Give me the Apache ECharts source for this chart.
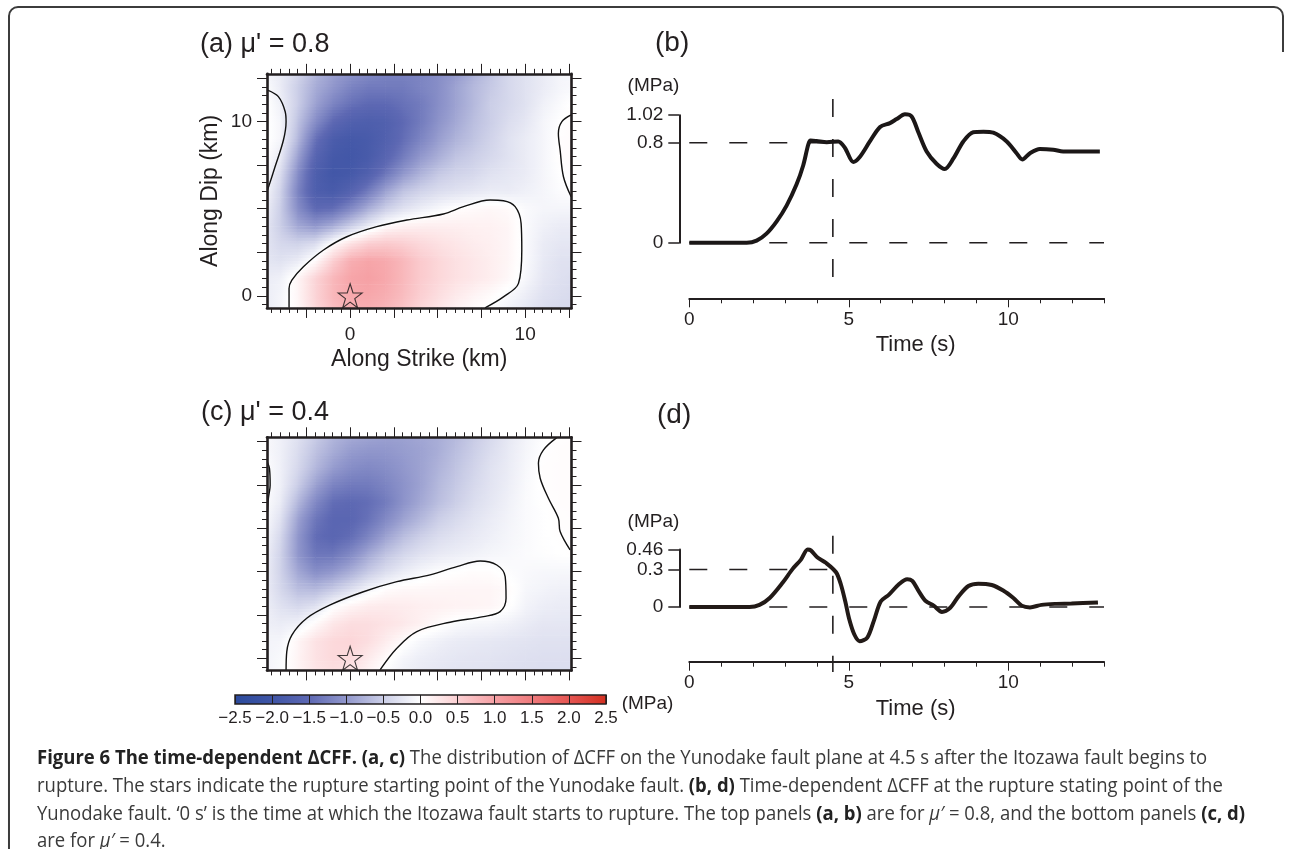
<!DOCTYPE html>
<html><head><meta charset="utf-8">
<script src="https://cdn.jsdelivr.net/npm/echarts@6/dist/echarts.min.js"></script>
<style>html,body{margin:0;padding:0;background:#fff}#c{width:1290px;height:849px}</style>
</head><body><div id="c"></div>
<script>
// ================= DATA =================
// Fault-plane grid nodes (km)
const strikeNodes = [-5,-4,-3,-2,-1,0,1,2,3,4,5,6,7,8,9,10,11,12,13];
const dipNodes = [13,12,11,10,9,8,7,6,5,4,3,2,1,0,-1]; // rows, top to bottom
// ΔCFF (MPa) read at grid nodes, panel (a) mu'=0.8
const fieldA = [
 [-0.1,-0.2,-0.4,-0.7,-0.9,-1.0,-1.1,-1.2,-1.2,-1.2,-1.1,-1.0,-0.8,-0.6,-0.4,-0.3,-0.2,-0.1,-0.1],
 [0.0,-0.2,-0.5,-0.8,-1.0,-1.2,-1.3,-1.3,-1.3,-1.2,-1.1,-0.9,-0.7,-0.55,-0.4,-0.3,-0.2,-0.1,-0.05],
 [0.05,-0.15,-0.5,-0.9,-1.2,-1.4,-1.5,-1.5,-1.4,-1.3,-1.1,-0.9,-0.7,-0.5,-0.4,-0.3,-0.15,-0.05,0.05],
 [0.05,-0.1,-0.6,-1.1,-1.5,-1.7,-1.75,-1.7,-1.5,-1.3,-1.05,-0.85,-0.65,-0.5,-0.35,-0.25,-0.1,0.0,0.05],
 [0.05,-0.1,-0.7,-1.4,-1.8,-1.9,-1.85,-1.7,-1.45,-1.2,-0.95,-0.75,-0.6,-0.45,-0.3,-0.2,-0.1,0.02,0.05],
 [0.03,-0.2,-0.9,-1.6,-1.9,-1.95,-1.85,-1.6,-1.3,-1.0,-0.8,-0.6,-0.5,-0.4,-0.3,-0.2,-0.1,0.02,0.05],
 [0.02,-0.35,-1.1,-1.75,-1.95,-1.9,-1.7,-1.35,-1.0,-0.75,-0.55,-0.45,-0.4,-0.3,-0.25,-0.2,-0.1,0.0,0.03],
 [-0.02,-0.45,-1.2,-1.75,-1.85,-1.65,-1.3,-0.9,-0.6,-0.45,-0.35,-0.3,-0.25,-0.2,-0.2,-0.15,-0.1,-0.03,0.0],
 [-0.1,-0.5,-1.1,-1.5,-1.45,-1.15,-0.8,-0.5,-0.3,-0.18,-0.08,0.01,0.05,0.08,0.05,-0.05,-0.1,-0.1,-0.1],
 [-0.2,-0.5,-0.85,-1.0,-0.8,-0.5,-0.2,0.05,0.15,0.18,0.18,0.17,0.15,0.14,0.1,-0.05,-0.15,-0.2,-0.2],
 [-0.25,-0.4,-0.45,-0.35,0.02,0.3,0.5,0.55,0.5,0.4,0.32,0.26,0.2,0.16,0.1,-0.05,-0.2,-0.25,-0.25],
 [-0.25,-0.3,-0.2,0.05,0.5,0.85,0.95,0.9,0.75,0.55,0.42,0.32,0.25,0.18,0.1,-0.05,-0.22,-0.3,-0.3],
 [-0.2,-0.15,0.1,0.45,0.75,0.95,1.0,0.92,0.75,0.55,0.42,0.32,0.25,0.18,0.08,-0.08,-0.25,-0.32,-0.35],
 [-0.2,-0.1,0.1,0.45,0.75,0.9,0.92,0.85,0.7,0.5,0.35,0.22,0.12,0.04,-0.06,-0.18,-0.3,-0.35,-0.38],
 [-0.2,-0.1,0.08,0.4,0.65,0.8,0.82,0.75,0.6,0.4,0.25,0.12,0.03,-0.05,-0.15,-0.25,-0.35,-0.4,-0.4]
];
// ΔCFF (MPa) read at grid nodes, panel (c) mu'=0.4
const fieldC = [
 [-0.05,-0.15,-0.3,-0.5,-0.7,-0.8,-0.85,-0.9,-0.9,-0.85,-0.8,-0.7,-0.55,-0.4,-0.25,-0.12,-0.02,0.02,0.03],
 [-0.05,-0.15,-0.35,-0.6,-0.8,-0.95,-1.0,-1.0,-0.95,-0.9,-0.8,-0.65,-0.5,-0.35,-0.22,-0.1,0.0,0.03,0.03],
 [0.0,-0.15,-0.4,-0.7,-0.95,-1.1,-1.15,-1.1,-1.0,-0.9,-0.75,-0.6,-0.45,-0.3,-0.2,-0.08,0.02,0.03,0.03],
 [0.0,-0.15,-0.5,-0.9,-1.2,-1.3,-1.3,-1.2,-1.05,-0.9,-0.7,-0.55,-0.4,-0.28,-0.18,-0.06,0.02,0.03,0.03],
 [0.0,-0.2,-0.7,-1.15,-1.45,-1.5,-1.45,-1.3,-1.05,-0.85,-0.65,-0.5,-0.35,-0.25,-0.15,-0.05,0.0,0.03,0.03],
 [-0.02,-0.3,-0.9,-1.35,-1.55,-1.55,-1.4,-1.15,-0.9,-0.7,-0.5,-0.38,-0.28,-0.2,-0.12,-0.05,-0.01,0.02,0.03],
 [-0.05,-0.4,-1.0,-1.45,-1.55,-1.45,-1.2,-0.9,-0.65,-0.48,-0.35,-0.28,-0.22,-0.16,-0.1,-0.05,-0.01,0.01,0.02],
 [-0.1,-0.45,-1.0,-1.35,-1.35,-1.15,-0.85,-0.6,-0.42,-0.3,-0.22,-0.18,-0.14,-0.1,-0.07,-0.04,-0.02,0.0,0.01],
 [-0.12,-0.45,-0.85,-1.1,-1.0,-0.8,-0.55,-0.35,-0.2,-0.1,-0.03,0.0,0.03,0.02,-0.03,-0.06,-0.08,-0.08,-0.08],
 [-0.15,-0.4,-0.65,-0.7,-0.55,-0.35,-0.12,0.02,0.07,0.08,0.09,0.1,0.1,0.1,0.05,-0.08,-0.12,-0.15,-0.15],
 [-0.15,-0.3,-0.4,-0.3,-0.02,0.12,0.2,0.22,0.2,0.17,0.15,0.13,0.12,0.1,0.02,-0.12,-0.18,-0.2,-0.2],
 [-0.15,-0.2,-0.15,0.05,0.25,0.35,0.35,0.3,0.24,0.15,0.05,-0.04,-0.08,-0.1,-0.14,-0.2,-0.25,-0.25,-0.25],
 [-0.12,-0.1,0.1,0.3,0.4,0.43,0.35,0.2,0.05,-0.08,-0.15,-0.2,-0.22,-0.24,-0.26,-0.28,-0.3,-0.3,-0.3],
 [-0.12,-0.06,0.12,0.3,0.4,0.38,0.22,0.05,-0.1,-0.18,-0.22,-0.25,-0.27,-0.28,-0.3,-0.32,-0.33,-0.33,-0.33],
 [-0.12,-0.05,0.1,0.25,0.32,0.25,0.1,-0.05,-0.15,-0.22,-0.25,-0.27,-0.28,-0.3,-0.32,-0.33,-0.35,-0.35,-0.35]
];
// Zero contours [strike km, dip km]
const contourA1 = [[-3.49,-0.69],[-3.49,0.42],[-3.33,0.9],[-2.67,1.67],[-1.52,2.63],[-0.19,3.39],[1.52,3.97],[3.24,4.35],[5.33,4.7],[6.48,5.12],[8.0,5.5],[8.76,5.46],[9.43,5.12],[9.77,4.16],[9.81,2.63],[9.62,0.71],[8.76,-0.06],[7.71,-0.69]];
const contourA2 = [[-4.72,11.82],[-4.1,11.44],[-3.71,10.57],[-3.66,10.0],[-3.81,8.95],[-4.29,7.41],[-4.72,6.07]];
const contourA3 = [[12.63,10.39],[12.1,10.0],[11.9,9.33],[12.0,8.37],[12.19,6.84],[12.63,5.69]];
const contourC1 = [[-3.66,-0.73],[-3.62,0.38],[-3.33,1.34],[-2.48,2.31],[-1.14,3.08],[0.76,3.84],[2.67,4.42],[4.57,4.81],[6.1,5.29],[7.43,5.61],[8.38,5.38],[8.86,4.71],[8.91,3.46],[8.57,2.69],[7.62,2.4],[5.71,2.08],[3.81,1.54],[2.67,0.58],[1.71,-0.67]];
const contourC2 = [[-4.72,11.3],[-4.61,10.96],[-4.57,10.0],[-4.67,9.23],[-4.72,8.46]];
const contourC3 = [[11.81,12.73],[11.05,12.02],[10.76,11.25],[10.86,10.39],[11.33,9.23],[11.9,8.08],[12.0,7.31],[12.57,6.25]];
const ruptureStart = [[0, 0]];
// Time series (s, MPa)
const timeB = [0,1.8,2.11,2.42,2.74,3.05,3.36,3.57,3.73,3.8,3.99,4.31,4.67,4.88,5.14,5.35,5.66,5.98,6.29,6.5,6.76,6.97,7.18,7.44,7.75,8.01,8.28,8.59,8.9,9.22,9.53,9.95,10.26,10.44,10.68,10.99,11.41,11.72,12.25,12.87];
const cffB  = [0,0,0.017,0.073,0.171,0.297,0.465,0.618,0.786,0.817,0.813,0.804,0.81,0.758,0.646,0.688,0.81,0.926,0.957,0.989,1.027,1.01,0.884,0.73,0.632,0.59,0.674,0.81,0.884,0.888,0.88,0.81,0.716,0.666,0.716,0.75,0.744,0.73,0.73,0.73];
const timeD = [0,1.89,2.2,2.52,2.93,3.24,3.5,3.71,3.81,4.02,4.28,4.6,4.75,4.89,5.01,5.17,5.34,5.58,5.79,6.0,6.26,6.57,6.83,6.99,7.19,7.4,7.66,7.92,8.18,8.44,8.75,9.06,9.48,9.84,10.16,10.42,10.68,11.04,11.46,11.98,12.81];
const cffD  = [0,0,0.017,0.072,0.196,0.305,0.379,0.46,0.453,0.396,0.354,0.278,0.182,0.044,-0.094,-0.218,-0.273,-0.245,-0.107,0.044,0.099,0.182,0.223,0.209,0.127,0.05,0.011,-0.039,-0.006,0.085,0.168,0.187,0.176,0.132,0.072,0.011,-0.003,0.017,0.025,0.028,0.036];
// Reference (dashed) lines
const guideBvert = [[4.5,1.15],[4.5,-0.3]];
const guideBlevel = [[0,0.8],[4.6,0.8]];
const guideBzero = [[0,0],[13,0]];
const guideDvert = [[4.5,0.57],[4.5,-0.52]];
const guideDlevel = [[0,0.3],[4.6,0.3]];
const guideDzero = [[0,0],[13,0]];
// Tick values
const strikeMajor = [-2.5,0,2.5,5,7.5,10,12.5];
const dipMajor = [0,2.5,5,7.5,10,12.5];
const kmLabels = [0,10];
const timeMajor = [0,5,10];
const timeMinor = [0,1,2,3,4,5,6,7,8,9,10,11,12,13];
const cffTicksB = [0,0.8,1.02];
const cffTicksD = [0,0.3,0.46];
const colorRange = [[-2.5, 2.5]];
// Colour scale of the colour bar (MPa -> colour)
const cbStops = [[-2.5,'#2b4a9c'],[-2.0,'#3f55a6'],[-1.5,'#5d68b3'],[-1.0,'#9197cc'],[-0.5,'#cbcee7'],[0,'#ffffff'],[0.5,'#fbcfd2'],[1.0,'#f6a0a4'],[1.5,'#ef7a7c'],[2.0,'#e55552'],[2.5,'#d32f20']];

// ================= HELPERS =================
const FONT = "'Liberation Sans', Arial, Helvetica, sans-serif";
const CAPFONT = "'Open Sans', 'DejaVu Sans', sans-serif";
const INK = '#231f20';
const minorList = (a, b) => { const r = []; for (let v = a; v <= b + 1e-9; v += 0.5) r.push(+v.toFixed(2)); return r; };
const strikeMinor = minorList(-4.5, 12.5);
const dipMinor = minorList(-0.5, 12.5);
const hexRgb = h => [parseInt(h.slice(1,3),16), parseInt(h.slice(3,5),16), parseInt(h.slice(5,7),16)];
const cbRgb = cbStops.map(s => [s[0], hexRgb(s[1])]);
function cmap(v) {
  if (v <= cbRgb[0][0]) return 'rgb(' + cbRgb[0][1].join(',') + ')';
  for (let i = 1; i < cbRgb.length; i++) {
    if (v <= cbRgb[i][0]) {
      const a = cbRgb[i-1], b = cbRgb[i], t = (v - a[0]) / (b[0] - a[0]);
      return 'rgb(' + [0,1,2].map(k => Math.round(a[1][k] + (b[1][k] - a[1][k]) * t)).join(',') + ')';
    }
  }
  return 'rgb(' + cbRgb[cbRgb.length-1][1].join(',') + ')';
}
const linGrad = (stops) => ({type: 'linear', x: 0, y: 0, x2: 1, y2: 0, colorStops: stops, global: false});

function fieldSeries(field, axisIdx) {
  const cells = [];
  for (let r = 0; r < dipNodes.length - 1; r++)
    for (let c = 0; c < strikeNodes.length - 1; c++) cells.push([strikeNodes[c], dipNodes[r], c, r]);
  return {
    type: 'custom', xAxisIndex: axisIdx, yAxisIndex: axisIdx, clip: true, silent: true, z: 1,
    data: cells,
    renderItem(params, api) {
      const c = api.value(2), r = api.value(3);
      const pTL = api.coord([strikeNodes[c], dipNodes[r]]);
      const pBR = api.coord([strikeNodes[c+1], dipNodes[r+1]]);
      const vTL = field[r][c], vTR = field[r][c+1], vBL = field[r+1][c], vBR = field[r+1][c+1];
      const S = 6, h = (pBR[1] - pTL[1]) / S, w = pBR[0] - pTL[0];
      const children = [];
      for (let k = 0; k < S; k++) {
        const t = (k + 0.5) / S;
        const vl = vTL + (vBL - vTL) * t, vr = vTR + (vBR - vTR) * t;
        const stops = [];
        for (let s = 0; s <= 4; s++) { const u = s / 4; stops.push({offset: u, color: cmap(vl + (vr - vl) * u)}); }
        children.push({type: 'rect', shape: {x: pTL[0], y: pTL[1] + k * h, width: w + 0.7, height: h + 0.7},
          style: {fill: linGrad(stops)}});
      }
      return {type: 'group', children};
    }
  };
}
const lineOf = (data, xi, yi, extra) => Object.assign({
  type: 'line', xAxisIndex: xi, yAxisIndex: yi, data, showSymbol: false, symbol: 'none',
  silent: true, animation: false
}, extra);
const contour = (data, idx) => lineOf(data, idx, idx, {smooth: 0.35, clip: true, z: 3, lineStyle: {color: '#111', width: 1.4}});
const dashed = (data, xi, yi) => lineOf(data, xi, yi, {clip: false, z: 2, lineStyle: {color: INK, width: 1.6, type: [18, 22]}});
const star = (idx) => ({type: 'scatter', xAxisIndex: idx, yAxisIndex: idx, data: ruptureStart, z: 4, silent: true,
  symbol: 'path://M12,0.5 L14.8,8.9 L23.6,8.9 L16.5,14.1 L19.2,22.5 L12,17.3 L4.8,22.5 L7.5,14.1 L0.4,8.9 L9.2,8.9 Z',
  symbolSize: 24, itemStyle: {color: 'rgba(0,0,0,0)', borderColor: '#111', borderWidth: 1.1}});

const lbl = (vals, margin) => vals ? {show: true, customValues: vals, margin, fontSize: 19, color: INK, fontFamily: FONT} : {show: false};
function xFrame(grid, pos, major, labels, name) {
  return {
    gridIndex: grid, type: 'value', position: pos, min: -4.75, max: 12.65, z: 5,
    axisLine: {show: major, onZero: false, lineStyle: {color: INK, width: 2.6}},
    axisTick: {show: true, customValues: major ? strikeMajor : strikeMinor, length: major ? 10 : 5, lineStyle: {color: INK, width: 1}},
    axisLabel: lbl(labels, 17), splitLine: {show: false},
    name: name || '', nameLocation: 'middle', nameGap: 40,
    nameTextStyle: {fontSize: 23, color: INK, fontFamily: FONT}
  };
}
function yFrame(grid, pos, major, labels, name) {
  return {
    gridIndex: grid, type: 'value', position: pos, min: -0.7, max: 12.75, z: 5,
    axisLine: {show: major, onZero: false, lineStyle: {color: INK, width: 2.6}},
    axisTick: {show: true, customValues: major ? dipMajor : dipMinor, length: major ? 10 : 5, lineStyle: {color: INK, width: 1}},
    axisLabel: lbl(labels, 15), splitLine: {show: false},
    name: name || '', nameLocation: 'middle', nameGap: 45,
    nameTextStyle: {fontSize: 23, color: INK, fontFamily: FONT}
  };
}
function timeAxis(grid, major) {
  return {
    gridIndex: grid, type: 'value', position: 'bottom', min: 0, max: 13,
    axisLine: {show: major, onZero: false, lineStyle: {color: INK, width: 2}},
    axisTick: {show: true, customValues: major ? timeMajor : timeMinor, length: major ? 9 : 5, lineStyle: {color: INK, width: 1}},
    axisLabel: major ? lbl(timeMajor, 12) : {show: false}, splitLine: {show: false},
    name: major ? 'Time (s)' : '', nameLocation: 'middle', nameGap: 36,
    nameTextStyle: {fontSize: 22, color: INK, fontFamily: FONT, padding: [0, 0, 0, 38]}
  };
}
function bracketAxis(grid, max, ticks, gap) {
  return {
    gridIndex: grid, type: 'value', position: 'left', min: 0, max,
    axisLine: {show: true, onZero: false, lineStyle: {color: INK, width: 2}},
    axisTick: {show: true, customValues: ticks, length: 11, lineStyle: {color: INK, width: 1.5}},
    axisLabel: lbl(ticks, 16), splitLine: {show: false},
    name: '(MPa)', nameLocation: 'end', nameGap: gap,
    nameTextStyle: {fontSize: 19, color: INK, fontFamily: FONT, align: 'right', verticalAlign: 'bottom'}
  };
}
const hidden = (grid, min, max) => ({gridIndex: grid, type: 'value', show: false, min, max});

const G = (left, top, width, height) => ({left, top, width, height, containLabel: false, outerBoundsMode: 'none', show: false});

const option = {
  animation: false,
  backgroundColor: '#fff',
  textStyle: {fontFamily: FONT},
  grid: [
    G(267, 73.85, 304.5, 234.1),   // 0 (a)
    G(267, 437.3, 304.5, 233.1),   // 1 (c)
    G(689.3, 99, 414.7, 199.3),    // 2 (b)
    G(679.3, 115.2, 10, 127.5),    // 3 (b) bracket
    G(689.3, 535.7, 414.7, 126),   // 4 (d)
    G(679.3, 549.5, 10, 57.5),     // 5 (d) bracket
    G(235, 695, 371, 9)            // 6 colour bar
  ],
  xAxis: [
    xFrame(0, 'bottom', true, kmLabels, 'Along Strike (km)'),
    xFrame(0, 'bottom', false),
    xFrame(0, 'top', true),
    xFrame(0, 'top', false),
    xFrame(1, 'bottom', true),
    xFrame(1, 'bottom', false),
    xFrame(1, 'top', true),
    xFrame(1, 'top', false),
    timeAxis(2, true),
    timeAxis(2, false),
    hidden(3, 0, 1),
    timeAxis(4, true),
    timeAxis(4, false),
    hidden(5, 0, 1),
    {gridIndex: 6, type: 'value', min: -2.5, max: 2.5, interval: 0.5, z: 10, position: 'bottom',
     axisLine: {show: false, onZero: false}, axisTick: {show: false},
     splitLine: {show: true, lineStyle: {color: INK, width: 1}},
     axisLabel: {show: true, margin: 6, fontSize: 17, color: INK, fontFamily: FONT,
                 formatter: v => v.toFixed(1).replace('-', '\u2212')},
     name: '(MPa)', nameLocation: 'end', nameGap: 8,
     nameTextStyle: {fontSize: 19, color: INK, fontFamily: FONT}}
  ],
  yAxis: [
    yFrame(0, 'left', true, kmLabels, 'Along Dip (km)'),
    yFrame(0, 'left', false),
    yFrame(0, 'right', true),
    yFrame(0, 'right', false),
    yFrame(1, 'left', true),
    yFrame(1, 'left', false),
    yFrame(1, 'right', true),
    yFrame(1, 'right', false),
    hidden(2, -0.4448, 1.1496),
    bracketAxis(3, 1.02, cffTicksB, 20),
    hidden(4, -0.4376, 0.5704),
    bracketAxis(5, 0.46, cffTicksD, 18),
    hidden(6, 0, 1)
  ],
  series: [
    fieldSeries(fieldA, 0),
    contour(contourA1, 0), contour(contourA2, 0), contour(contourA3, 0),
    star(0),
    fieldSeries(fieldC, 4),
    contour(contourC1, 4), contour(contourC2, 4), contour(contourC3, 4),
    star(4),
    lineOf(timeB.map((t, i) => [t, cffB[i]]), 8, 8, {smooth: 0.3, clip: false, z: 3, lineStyle: {color: '#1b1717', width: 4}}),
    dashed(guideBvert, 8, 8), dashed(guideBlevel, 8, 8), dashed(guideBzero, 8, 8),
    lineOf(timeD.map((t, i) => [t, cffD[i]]), 11, 10, {smooth: 0.3, clip: false, z: 3, lineStyle: {color: '#221a17', width: 4}}),
    dashed(guideDvert, 11, 10), dashed(guideDlevel, 11, 10), dashed(guideDzero, 11, 10),
    {type: 'custom', xAxisIndex: 14, yAxisIndex: 12, data: colorRange, silent: true, z: 2,
     renderItem(params, api) {
       const p0 = api.coord([api.value(0), 0]), p1 = api.coord([api.value(1), 1]);
       const stops = cbStops.map(s => ({offset: (s[0] - api.value(0)) / (api.value(1) - api.value(0)), color: s[1]}));
       return {type: 'rect', shape: {x: p0[0], y: p1[1], width: p1[0] - p0[0], height: p0[1] - p1[1]},
               style: {fill: linGrad(stops), stroke: INK, lineWidth: 1.5}};
     }}
  ],
  graphic: [
    {type: 'rect', silent: true, shape: {x: 9, y: 7, width: 1274, height: 900, r: 9},
     style: {fill: 'none', stroke: '#3c3c3c', lineWidth: 2}},
    {type: 'rect', silent: true, shape: {x: 1278, y: 52, width: 12, height: 800}, style: {fill: '#fff'}},
    {type: 'text', x: 200, y: 45, style: {text: "(a) \u03bc' = 0.8", fontSize: 27, fontFamily: FONT, fill: INK, verticalAlign: 'middle'}},
    {type: 'text', x: 655, y: 43, style: {text: '(b)', fontSize: 28, fontFamily: FONT, fill: INK, verticalAlign: 'middle'}},
    {type: 'text', x: 201, y: 413, style: {text: "(c) \u03bc' = 0.4", fontSize: 27, fontFamily: FONT, fill: INK, verticalAlign: 'middle'}},
    {type: 'text', x: 657, y: 415, style: {text: '(d)', fontSize: 28, fontFamily: FONT, fill: INK, verticalAlign: 'middle'}}
  ]
};

const capLines = [
  '{b|Figure 6 The time-dependent \u0394CFF.} {b|(a, c)} The distribution of \u0394CFF on the Yunodake fault plane at 4.5 s after the Itozawa fault begins to',
  'rupture. The stars indicate the rupture starting point of the Yunodake fault. {b|(b, d)} Time-dependent \u0394CFF at the rupture stating point of the',
  'Yunodake fault. \u20180 s\u2019 is the time at which the Itozawa fault starts to rupture. The top panels {b|(a, b)} are for {i|\u03bc\u2032} = 0.8, and the bottom panels {b|(c, d)}',
  'are for {i|\u03bc\u2032} = 0.4.'
];
const capY = [758, 786, 814, 841];
// horizontal condensing so the caption lines span the same width as in the figure
const ctx2d = document.createElement('canvas').getContext('2d');
function measureLine(line) {
  let w = 0; const re = /\{(\w)\|([^}]*)\}|([^{]+)/g; let m;
  while ((m = re.exec(line))) {
    if (m[3]) { ctx2d.font = '20px ' + CAPFONT; w += ctx2d.measureText(m[3]).width; }
    else { ctx2d.font = (m[1] === 'b' ? 'bold ' : 'italic ') + '20px ' + CAPFONT; w += ctx2d.measureText(m[2]).width; }
  }
  return w;
}
const capScale = Math.min(1, 1208 / measureLine(capLines[2]));
capLines.forEach((t, i) => option.graphic.push({
  type: 'text', x: 37, y: capY[i], scaleX: capScale, silent: true,
  style: {text: t, fontSize: 20, fontFamily: CAPFONT, fill: '#3a3a3a', verticalAlign: 'middle',
    rich: {b: {fontSize: 20, fontFamily: CAPFONT, fontWeight: 'bold', fill: '#222'},
           i: {fontSize: 20, fontFamily: CAPFONT, fontStyle: 'italic', fill: '#3a3a3a'}}}
}));

const chart = echarts.init(document.getElementById('c'), null, {renderer: 'canvas'});
chart.setOption(option);
</script></body></html>
